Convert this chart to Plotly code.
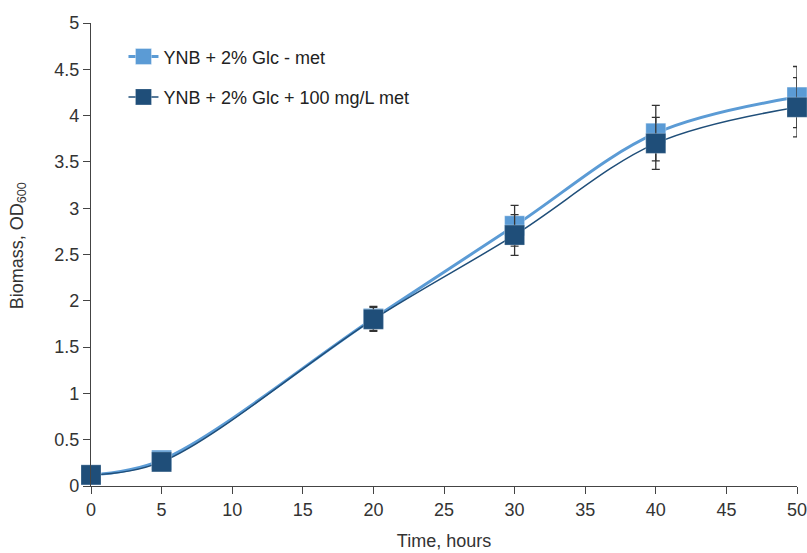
import plotly.graph_objects as go

time_h = [0, 5, 20, 30, 40, 50]
no_met = [0.12, 0.28, 1.81, 2.81, 3.81, 4.20]
no_met_err = [0.0, 0.0, 0.13, 0.22, 0.30, 0.33]
with_met = [0.12, 0.26, 1.80, 2.71, 3.70, 4.09]
with_met_err = [0.0, 0.0, 0.13, 0.22, 0.28, 0.32]

names = ["YNB + 2% Glc - met", "YNB + 2% Glc + 100 mg/L met"]
light = "#5b9bd5"
dark = "#1f4e79"

fig = go.Figure()
fig.add_trace(go.Scatter(
    x=time_h, y=no_met, name=names[0], mode="lines+markers",
    line=dict(color=light, width=3, shape="spline", smoothing=1),
    marker=dict(symbol="square", size=20, color=light, line=dict(color="rgba(255,255,255,0.35)", width=1)),
    error_y=dict(type="data", array=no_met_err, color="#333333", thickness=1.3, width=4),
    cliponaxis=False, legendgroup="a",
))
fig.add_trace(go.Scatter(
    x=time_h, y=with_met, name=names[1], mode="lines+markers",
    line=dict(color=dark, width=1.5, shape="spline", smoothing=1),
    marker=dict(symbol="square", size=20, color=dark, line=dict(color="rgba(255,255,255,0.25)", width=1)),
    error_y=dict(type="data", array=with_met_err, color="#333333", thickness=1.3, width=4),
    cliponaxis=False, legendgroup="b",
))

font_family = "Liberation Sans, Arial, sans-serif"
fig.update_layout(
    width=807, height=553,
    margin=dict(l=91, r=10, t=23, b=67),
    paper_bgcolor="white", plot_bgcolor="white",
    font=dict(family=font_family, size=18, color="#333333"),
    showlegend=True,
    legend=dict(x=0.046, y=0.967, xanchor="left", yanchor="top",
                font=dict(size=18, color="#222222"), tracegroupgap=14,
                bgcolor="rgba(0,0,0,0)"),
    xaxis=dict(
        range=[0, 50], tickmode="array", tickvals=[0, 5, 10, 15, 20, 25, 30, 35, 40, 45, 50],
        showgrid=False, zeroline=False, showline=True, linecolor="#444444", linewidth=1.2,
        ticks="outside", ticklen=7, tickcolor="#444444", tickwidth=1.2,
        tickfont=dict(size=18, color="#333333"), automargin=False, ticklabeloverflow="allow",
        title=dict(text="Time, hours", font=dict(size=18, color="#333333"), standoff=15),
    ),
    yaxis=dict(
        range=[0, 5], tickmode="array", tickvals=[0, 0.5, 1, 1.5, 2, 2.5, 3, 3.5, 4, 4.5, 5],
        ticktext=["0", "0.5", "1", "1.5", "2", "2.5", "3", "3.5", "4", "4.5", "5"],
        showgrid=False, zeroline=False, showline=True, linecolor="#444444", linewidth=1.2,
        ticks="outside", ticklen=7, tickcolor="#444444", tickwidth=1.2,
        tickfont=dict(size=18, color="#333333"), automargin=False,
    ),
    annotations=[dict(
        text="Biomass, OD<sub>600</sub>", textangle=-90, showarrow=False,
        xref="paper", yref="paper", x=-0.1035, y=0.52, xanchor="center", yanchor="middle",
        font=dict(size=18, color="#333333"),
    )],
)

fig.write_html(
    "out.html",
    config={"displayModeBar": False},
    post_script="document.body.style.margin='0';document.body.style.overflow='hidden';",
)
